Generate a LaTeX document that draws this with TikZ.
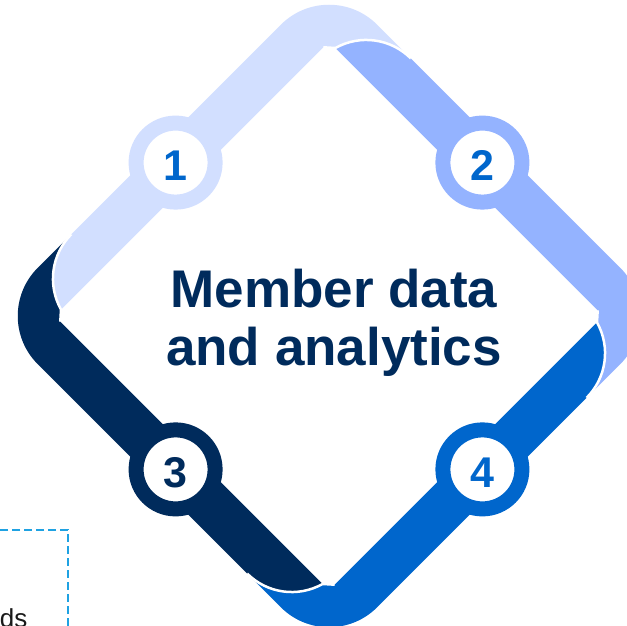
\documentclass[tikz,border=0pt]{standalone}
\usepackage{fontspec}
\setmainfont{Liberation Sans}
\definecolor{segA}{HTML}{D2DFFF}
\definecolor{segB}{HTML}{94B3FF}
\definecolor{segC}{HTML}{0066CC}
\definecolor{segD}{HTML}{002B5C}
\definecolor{boxline}{HTML}{1FA2E2}
\definecolor{bodytext}{HTML}{1A1A1A}
\begin{document}
\begin{tikzpicture}[x=1pt,y=1pt,
  title/.style={font=\fontsize{53}{60}\selectfont\bfseries, text=segD, anchor=base, inner sep=0pt},
  badgenum/.style={font=\fontsize{43}{48}\selectfont\bfseries, anchor=base, inner sep=0pt},
  badge/.style={circle, fill=white, line width=15pt, minimum size=79pt, inner sep=0pt},
  gapline/.style={white, line width=2.5pt},
  notebox/.style={draw=boxline, dash pattern=on 8pt off 4pt, line width=2pt, minimum width=200pt, minimum height=160pt, inner sep=0pt}]
\clip (0,0) rectangle (627,626);
\fill[white] (0,0) rectangle (627,626);

% ribbon pieces: one per side, each wrapping round the corner at its clockwise end
\foreach \k/\col in {0/segA,1/segB,2/segC,3/segD}{
  \begin{scope}[shift={(329,310)}, rotate=45-90*\k]
    \fill[\col] (-184.95,194.05) arc[start angle=164.3, end angle=90, radius=63]
      -- (172,240) arc[start angle=90, end angle=0, radius=68]
      -- (240,124.3) arc[start angle=0, end angle=74.3, radius=63]
      -- (186,194) -- cycle;
  \end{scope}
}
% thin white seams where one ribbon folds over the next
\foreach \k in {0,1,2,3}{
  \begin{scope}[shift={(329,310)}, rotate=45-90*\k]
    \draw[gapline] (240,124.3) arc[start angle=0, end angle=74.3, radius=63] -- (186,194);
  \end{scope}
}

% numbered badges on the middle of each side
\foreach \n/\px/\py/\col/\tc in {1/175.6/463.4/segA/segC, 2/482.4/463.4/segB/segC, 3/175.6/156.6/segD/segD, 4/482.4/156.6/segC/segC}{
  \node[badge, draw=\col] (badge\n) at (\px,\py) {};
  \node[badgenum, text=\tc] (num\n) at ([yshift=-18pt]badge\n.center) {\n};
}

% central title
\node[title] (title1) at (334,318) {Member data};
\node[title] (title2) at (334,260) {and analytics};

% dashed note box in the lower left corner
\node[notebox, anchor=north east] (note) at (69,97) {};
\node[font=\fontsize{26}{30}\selectfont, text=bodytext, anchor=base east, inner sep=0pt] (notetext) at (27.5,-1.5) {ds};
\end{tikzpicture}
\end{document}
